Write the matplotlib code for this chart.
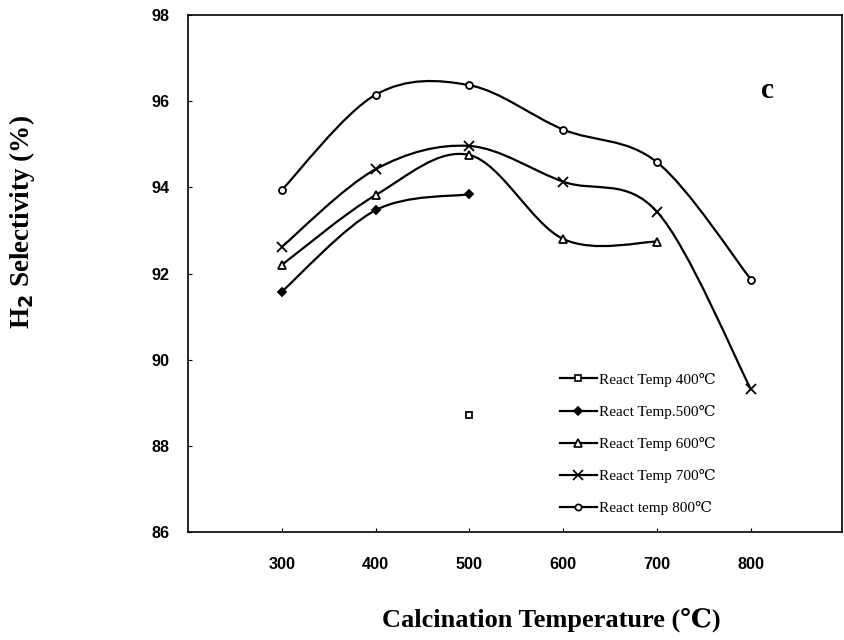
import numpy as np
import matplotlib
matplotlib.use("Agg")
import matplotlib.pyplot as plt
from matplotlib.path import Path
from matplotlib.patches import PathPatch

calc_temp = [300, 400, 500, 600, 700, 800]
s400 = [None, None, 88.72, None, None, None]
s500 = [91.58, 93.47, 93.84, None, None, None]
s600 = [92.20, 93.82, 94.75, 92.80, 92.74, None]
s700 = [92.62, 94.42, 94.96, 94.13, 93.43, 89.31]
s800 = [93.94, 96.15, 96.37, 95.34, 94.58, 91.86]

labels = ["React Temp 400\u2103", "React Temp.500\u2103", "React Temp 600\u2103",
          "React Temp 700\u2103", "React temp 800\u2103"]
series = [s400, s500, s600, s700, s800]
markers = ["s", "D", "^", "x", "o"]
fills = ["white", "black", "white", "black", "white"]
msizes = [5, 4.5, 6, 7, 5]

serif = ["Liberation Serif", "DejaVu Serif"]
sans = ["Liberation Sans", "DejaVu Sans"]

fig = plt.figure(figsize=(8.44, 6.4), dpi=100)
ax = fig.add_axes([188/844, 1-532/640, (842-188)/844, (532-15)/640])
ax.set_xlim(200, 897)
ax.set_ylim(86, 98)
ax.set_xticks(calc_temp)
ax.set_yticks(np.arange(86, 99, 2))
ax.tick_params(direction="in", length=3, width=0.8)
ax.tick_params(axis="x", pad=18)
ax.tick_params(axis="y", pad=13)
for lab in ax.get_xticklabels() + ax.get_yticklabels():
    lab.set_fontfamily(sans)
    lab.set_fontweight("bold")
    lab.set_fontsize(11.7)
for sp in ax.spines.values():
    sp.set_linewidth(1.2)


def smooth(xs, ys):
    pts = ax.transData.transform(np.column_stack([xs, ys]))
    n = len(pts)
    verts = [pts[0]]
    codes = [Path.MOVETO]
    for i in range(n - 1):
        p0 = pts[i - 1] if i > 0 else pts[i]
        p1 = pts[i]
        p2 = pts[i + 1]
        p3 = pts[i + 2] if i + 2 < n else pts[i + 1]
        c1 = p1 + (p2 - p0) / 6.0
        c2 = p2 - (p3 - p1) / 6.0
        verts += [c1, c2, p2]
        codes += [Path.CURVE4] * 3
    return Path(verts, codes)


handles = []
for ys, lab, mk, fc, ms in zip(series, labels, markers, fills, msizes):
    xs = [x for x, y in zip(calc_temp, ys) if y is not None]
    yv = [y for y in ys if y is not None]
    if len(xs) > 1:
        path = smooth(xs, yv)
        ax.add_patch(PathPatch(path, transform=None, facecolor="none",
                               edgecolor="black", lw=1.6, zorder=2))
    ax.plot(xs, yv, linestyle="none", marker=mk, markersize=ms,
            markerfacecolor=fc, markeredgecolor="black",
            markeredgewidth=1.3, color="black", zorder=3)
    handles.append(plt.Line2D([], [], color="black", lw=1.6, marker=mk,
                              markersize=ms - 0.5, markerfacecolor=fc,
                              markeredgecolor="black", markeredgewidth=1.2))

leg = ax.legend(handles, labels, loc="lower left",
                bbox_to_anchor=((560 - 188) / 654, (532 - 515) / 517),
                frameon=False, prop={"family": serif, "size": 11},
                handlelength=2.4, handletextpad=0.15, labelspacing=1.18,
                borderaxespad=0, borderpad=0)

ax.text(818, 96.24, "c", fontfamily=serif, fontweight="bold", fontsize=21,
        ha="center", va="center")

fig.text(551/844, 1-620/640, "Calcination Temperature (\u2103)", fontfamily=serif,
         fontweight="bold", fontsize=19, ha="center", va="center")
fig.text(22/844, 1-222/640, "H$_\\mathbf{2}$ Selectivity (%)", fontfamily=serif,
         fontweight="bold", fontsize=19.5, ha="center", va="center", rotation=90)

fig.savefig("out.png", dpi=100)
